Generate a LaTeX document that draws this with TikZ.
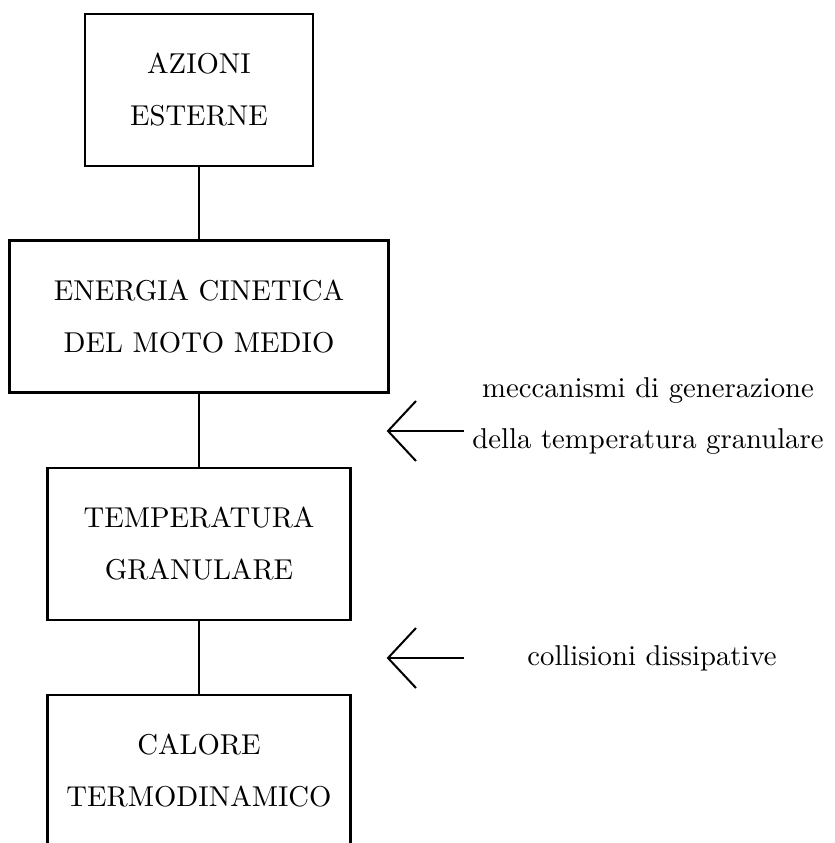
\documentclass[tikz,border=0pt]{standalone}
\begin{document}
\begin{tikzpicture}[x=0.3485pt,y=-0.3485pt,
  box/.style={draw,line width=1pt,minimum width=#1,inner sep=0pt,minimum height=52.97pt,align=center,font=\fontsize{10}{18.1}\selectfont},
  link/.style={line width=0.7pt},
  lbl/.style={align=center,font=\fontsize{10}{18.1}\selectfont,inner sep=0pt}]
\useasboundingbox (0,0) rectangle (834,843);
\node[box=79.46pt] (az) at (199,90) {AZIONI\\ESTERNE};
\node[box=132.1pt] (en) at (199,316.5) {ENERGIA CINETICA\\DEL MOTO MEDIO};
\node[box=105.6pt] (te) at (199,544) {TEMPERATURA\\GRANULARE};
\node[box=105.6pt] (ca) at (199,771) {CALORE\\TERMODINAMICO};
\draw[link] (az) -- (en);
\draw[link] (en) -- (te);
\draw[link] (te) -- (ca);
\coordinate (t1) at (388,431);
\coordinate (e1) at (464,431);
\coordinate (u1) at (416,401);
\coordinate (d1) at (416,461);
\draw[link] (e1) -- (t1);
\draw[link] (u1) -- (t1) -- (d1);
\coordinate (t2) at (388,658);
\coordinate (e2) at (464,658);
\coordinate (u2) at (416,628);
\coordinate (d2) at (416,688);
\draw[link] (e2) -- (t2);
\draw[link] (u2) -- (t2) -- (d2);
\node[lbl] (m1) at (648,416) {meccanismi di generazione\\della temperatura granulare};
\node[lbl] (m2) at (652,658) {collisioni dissipative};
\end{tikzpicture}
\end{document}
